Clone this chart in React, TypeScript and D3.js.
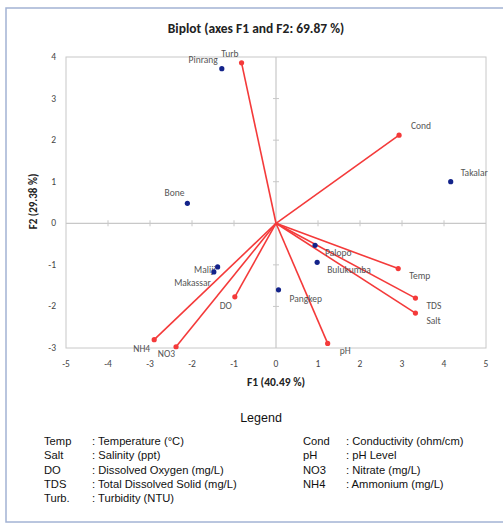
import React from 'react'
import * as d3 from 'd3'

// observations (sites)
const siteNames = ['Pinrang', 'Bone', 'Takalar', 'Maliji', 'Makassar', 'Palopo', 'Bulukumba', 'Pangkep']
const siteF1 = [-1.29, -2.11, 4.16, -1.39, -1.48, 0.93, 0.98, 0.06]
const siteF2 = [3.72, 0.48, 1.0, -1.05, -1.17, -0.53, -0.94, -1.6]

// variables (loadings)
const varNames = ['Turb', 'Cond', 'Temp', 'TDS', 'Salt', 'pH', 'DO', 'NH4', 'NO3']
const varF1 = [-0.82, 2.93, 2.91, 3.32, 3.32, 1.23, -0.98, -2.9, -2.38]
const varF2 = [3.86, 2.12, -1.09, -1.8, -2.16, -2.89, -1.77, -2.8, -2.97]

const xTicks = [-5, -4, -3, -2, -1, 0, 1, 2, 3, 4, 5]
const yTicks = [-3, -2, -1, 0, 1, 2, 3, 4]

const legendLeft = [
  ['Temp', ': Temperature (°C)'],
  ['Salt', ': Salinity (ppt)'],
  ['DO', ': Dissolved Oxygen (mg/L)'],
  ['TDS', ': Total Dissolved Solid (mg/L)'],
  ['Turb.', ': Turbidity (NTU)'],
]
const legendRight = [
  ['Cond', ': Conductivity (ohm/cm)'],
  ['pH', ': pH Level'],
  ['NO3', ' : Nitrate (mg/L)'],
  ['NH4', ' : Ammonium (mg/L)'],
]

// label offsets relative to the point (dx, dy, anchor)
const siteLabelPos: [number, number, string][] = [
  [-4, -6, 'end'], [-3, -7, 'end'], [10, -6, 'start'], [-2, 6, 'end'],
  [-3, 14, 'end'], [10, 11, 'start'], [10, 11, 'start'], [11, 12, 'start'],
]
const varLabelPos: [number, number, string][] = [
  [-3, -6, 'end'], [12, -6, 'start'], [11, 10, 'start'], [11, 11, 'start'], [11, 11, 'start'],
  [12, 11, 'start'], [-9, 12, 'middle'], [-4, 12, 'end'], [-1, 10, 'end'],
]

const W = 503
const H = 523
const left = 66
const right = 486
const top = 57
const bottom = 348

const App = () => {
  const x = d3.scaleLinear().domain([-5, 5]).range([left, right])
  const y = d3.scaleLinear().domain([-3, 4]).range([bottom, top])
  const font = 'Calibri, Carlito, "Open Sans", sans-serif'
  const red = '#f43a3a'
  const navy = '#13238a'
  const grey = '#c8c8c8'

  return (
    <svg width={W} height={H} style={{ position: 'absolute', left: 0, top: 0 }} fontFamily={font}>
      <rect x={0} y={0} width={W} height={H} fill="#fff" />
      <rect x={6} y={8} width={520} height={514} fill="none" stroke="#a3b3d4" strokeWidth={1.5} />
      <text x={256} y={33} textAnchor="middle" fontSize={13.5} fontWeight="bold" fill="#222">
        Biplot (axes F1 and F2: 69.87 %)
      </text>

      {/* plot frame */}
      <rect x={left} y={top} width={right - left} height={bottom - top} fill="none" stroke={grey} strokeWidth={1} />

      {/* zero axes */}
      <line x1={left} x2={right} y1={y(0)} y2={y(0)} stroke={grey} strokeWidth={1.2} />
      <line x1={x(0)} x2={x(0)} y1={top} y2={bottom} stroke={grey} strokeWidth={1.2} />
      {xTicks.filter(t => t !== 0 && t !== -5 && t !== 5).map(t => (
        <line key={'xt' + t} x1={x(t)} x2={x(t)} y1={y(0) - 3} y2={y(0) + 3} stroke={grey} />
      ))}
      {yTicks.filter(t => t !== 0 && t !== -3 && t !== 4).map(t => (
        <line key={'yt' + t} x1={x(0) - 3} x2={x(0) + 3} y1={y(t)} y2={y(t)} stroke={grey} />
      ))}

      {/* tick labels */}
      {xTicks.map(t => (
        <text key={'xl' + t} x={x(t)} y={bottom + 19} textAnchor="middle" fontSize={9.5} fill="#444">{t}</text>
      ))}
      {yTicks.map(t => (
        <text key={'yl' + t} x={56} y={y(t) + 3} textAnchor="end" fontSize={9.5} fill="#444">{t}</text>
      ))}

      <text x={x(0)} y={386} textAnchor="middle" fontSize={11.5} fontWeight="bold" fill="#222">F1 (40.49 %)</text>
      <text transform={`translate(37,${(top + bottom) / 2 - 1}) rotate(-90)`} textAnchor="middle" fontSize={11} fontWeight="bold" fill="#222">
        F2 (29.38 %)
      </text>

      {/* variable vectors */}
      {varNames.map((n, i) => (
        <g key={n}>
          <line x1={x(0)} y1={y(0)} x2={x(varF1[i])} y2={y(varF2[i])} stroke={red} strokeWidth={1.6} />
          <circle cx={x(varF1[i])} cy={y(varF2[i])} r={2.6} fill={red} />
          <text x={x(varF1[i]) + varLabelPos[i][0]} y={y(varF2[i]) + varLabelPos[i][1]}
            textAnchor={varLabelPos[i][2]} fontSize={9.5} fill="#555">{n}</text>
        </g>
      ))}

      {/* observations */}
      {siteNames.map((n, i) => (
        <g key={n}>
          <circle cx={x(siteF1[i])} cy={y(siteF2[i])} r={2.6} fill={navy} />
          <text x={x(siteF1[i]) + siteLabelPos[i][0]} y={y(siteF2[i]) + siteLabelPos[i][1]}
            textAnchor={siteLabelPos[i][2]} fontSize={9.5} fill="#555">{n}</text>
        </g>
      ))}

      {/* legend */}
      <g fontFamily='"Liberation Sans", Arial, sans-serif' fill="#111">
        <text x={261} y={422} textAnchor="middle" fontSize={12.5}>Legend</text>
        {legendLeft.map((r, i) => (
          <g key={r[0]} fontSize={11.2}>
            <text x={44} y={445 + i * 14.3}>{r[0]}</text>
            <text x={92} y={445 + i * 14.3}>{r[1]}</text>
          </g>
        ))}
        {legendRight.map((r, i) => (
          <g key={r[0]} fontSize={11.2}>
            <text x={303} y={445 + i * 14.3}>{r[0]}</text>
            <text x={346} y={445 + i * 14.3}>{r[1]}</text>
          </g>
        ))}
      </g>
    </svg>
  )
}

export default App
